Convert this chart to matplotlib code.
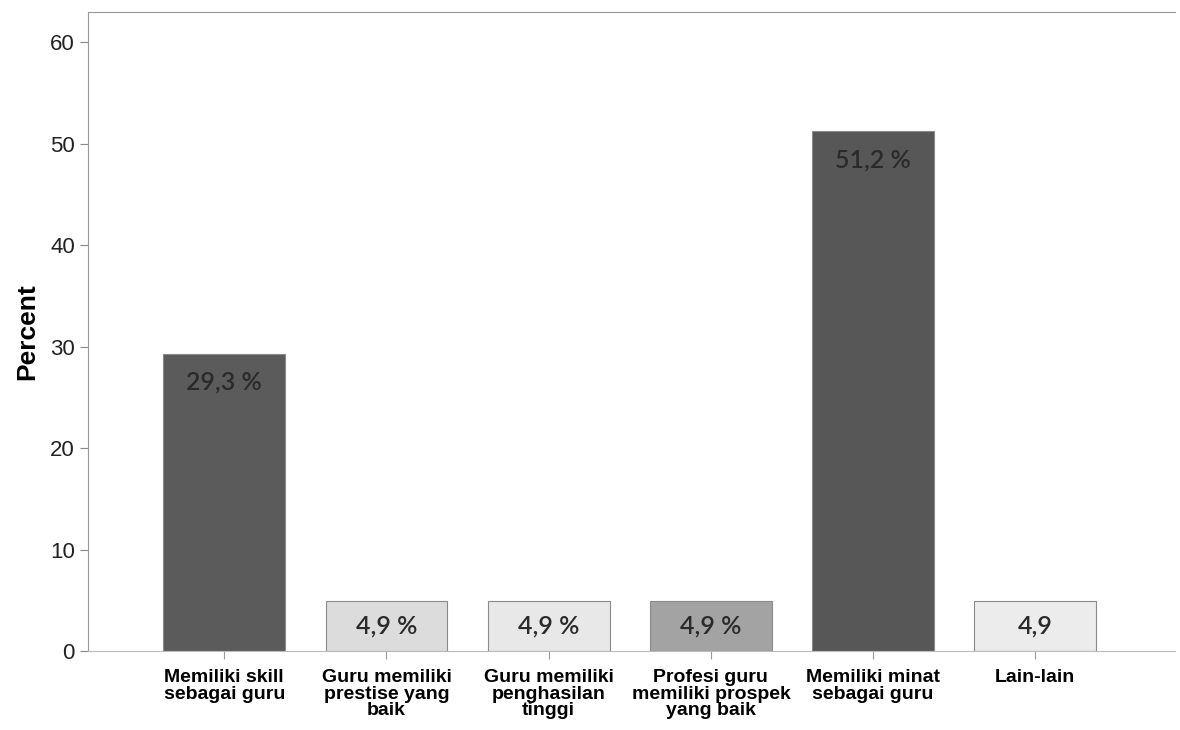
import matplotlib.pyplot as plt

categories = ['Memiliki skill\nsebagai guru', 'Guru memiliki\nprestise yang\nbaik',
              'Guru memiliki\npenghasilan\ntinggi', 'Profesi guru\nmemiliki prospek\nyang baik',
              'Memiliki minat\nsebagai guru', 'Lain-lain']
percent = [29.3, 4.9, 4.9, 4.9, 51.2, 4.9]
bar_text = ['29,3 %', '4,9 %', '4,9 %', '4,9 %', '51,2 %', '4,9']
colors = ['#5b5b5b', '#dcdcdc', '#e8e8e8', '#a3a3a3', '#575757', '#ececec']
yticks = [0, 10, 20, 30, 40, 50, 60]

fig = plt.figure(figsize=(11.8, 7.3), dpi=100)
ax = fig.add_axes([0.0746, 0.108, 0.921, 0.876])

x = list(range(len(categories)))
ax.bar(x, percent, width=0.75, color=colors, edgecolor='#8a8a8a', linewidth=0.8)

for i, v in enumerate(percent):
    if v > 10:
        ypos = v - 2.8
    else:
        ypos = v / 2
    ax.text(i, ypos, bar_text[i], ha='center', va='center', fontsize=18,
            family='Lato', fontweight='semibold', color='#2a2a2a')

ax.set_xlim(-0.84, 5.86)
ax.set_ylim(0, 63)
ax.set_xticks(x)
ax.set_xticklabels(categories, fontsize=14, family='Liberation Sans',
                   fontweight='bold', linespacing=0.95)
ax.set_yticks(yticks)
ax.tick_params(axis='y', labelsize=16, length=6, color='#888888', width=0.8)
ax.tick_params(axis='x', length=6, color='#999999', width=0.8, pad=7)
for lab in ax.get_yticklabels():
    lab.set_family('Liberation Sans')
    lab.set_color('#222222')
ax.set_ylabel('Percent', fontsize=19, fontweight='bold', family='Liberation Sans', labelpad=8)

ax.spines['right'].set_visible(False)
ax.spines['left'].set_color('#999999')
ax.spines['top'].set_color('#999999')
ax.spines['bottom'].set_color('#bbbbbb')

fig.savefig('out.png', dpi=100)
